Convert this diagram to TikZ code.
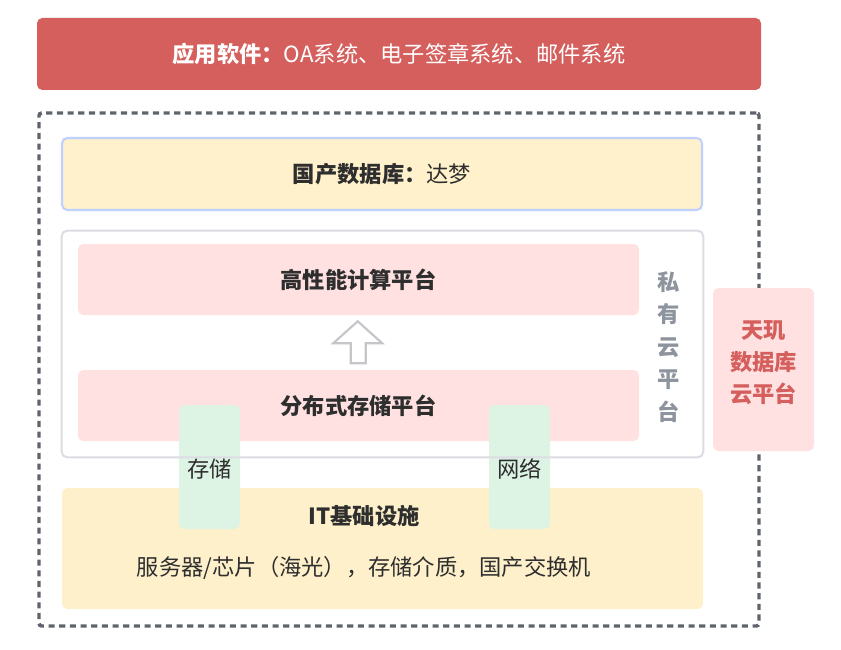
\documentclass[tikz,border=0pt]{standalone}
\usepackage{fontspec}
\setmainfont{Noto Sans CJK SC}
\usepackage{xcolor}
\usetikzlibrary{positioning, calc}
\definecolor{appRed}{HTML}{D45F5D}
\definecolor{dbFill}{HTML}{FFF1CC}
\definecolor{dbLine}{HTML}{BFD1FF}
\definecolor{cloudLine}{HTML}{DCDDE2}
\definecolor{platPink}{HTML}{FFE1E1}
\definecolor{itFill}{HTML}{FEF0CB}
\definecolor{linkGreen}{HTML}{DDF4E5}
\definecolor{frameGray}{HTML}{5F646C}
\definecolor{labelGray}{HTML}{8E949D}
\definecolor{arrowGray}{HTML}{C4C6CA}
\definecolor{textDark}{HTML}{2E2E2E}

\begin{document}
\begin{tikzpicture}[x=0.75pt, y=-0.75pt,
  every node/.style={font=\fontsize{16.7}{24}\selectfont, text=textDark},
  layerbox/.style={rectangle, rounded corners=4pt, inner sep=0pt},
  platbox/.style={layerbox, fill=platPink, minimum width=561*0.75pt, minimum height=71*0.75pt},
  linkbox/.style={layerbox, fill=linkGreen, minimum width=61*0.75pt, minimum height=124*0.75pt}]
\useasboundingbox (0,0) rectangle (841,649);
% outer dashed frame
\node[layerbox, rounded corners=2pt, draw=frameGray, line width=2.6pt, dash pattern=on 4.6pt off 3.4pt,
  minimum width=720*0.75pt, minimum height=513*0.75pt] (frame) at (399,369.5) {};
% application layer
\node[layerbox, fill=appRed, text=white, minimum width=724*0.75pt, minimum height=72*0.75pt] (app) at (399,54)
  {\textbf{应用软件：}OA系统、电子签章系统、邮件系统};
% database layer
\node[layerbox, fill=dbFill, draw=dbLine, line width=1.6pt, minimum width=640*0.75pt, minimum height=72*0.75pt] (db) at (382,174)
  {\textbf{国产数据库：}达梦};
% private cloud
\node[layerbox, fill=white, minimum width=641*0.75pt, minimum height=226*0.75pt] (cloud) at (382.5,344) {};
\node[platbox] (hpc) at (358.5,279.5) {\textbf{高性能计算平台}};
\node[platbox] (dfs) at (358.5,405.5) {\textbf{分布式存储平台}};
\coordinate (tip) at ($(hpc.south)+(-0.8,6)$);
\draw[arrowGray, line width=1.6pt, fill=white, line join=miter]
  (tip) -- ++(24.5,22) -- ++(-16.5,0) -- ++(0,20) -- ++(-15,0)
  -- ++(0,-20) -- ++(-17.5,0) -- cycle;
\node[align=center, text=labelGray, font=\fontsize{16.7}{24.4}\selectfont\bfseries] (cloudname) at (669,347)
  {私\\有\\云\\平\\台};
% tianji
\node[layerbox, fill=platPink, minimum width=101*0.75pt, minimum height=163*0.75pt] (tianji) at (763.5,369.5) {};
\node[align=center, text=appRed, font=\fontsize{16.7}{24}\selectfont\bfseries] (tianjiname) at (763.5,363)
  {天玑\\数据库\\云平台};
% infrastructure
\node[layerbox, fill=itFill, minimum width=641*0.75pt, minimum height=121*0.75pt] (it) at (382.5,548.5) {};
\node (itname) at (364,516) {\textbf{IT基础设施}};
\node (itlist) at (364,568) {服务器/芯片（海光），存储介质，国产交换机};
% links
\node[linkbox] (store) at (209.5,467) {};
\node (storename) at (209.5,469) {存储};
\node[linkbox] (net) at (519.5,467) {};
\node (netname) at (519.5,469) {网络};
\draw[cloudLine, line width=1.5pt, rounded corners=4pt] (cloud.north west) rectangle (cloud.south east);
\end{tikzpicture}
\end{document}
